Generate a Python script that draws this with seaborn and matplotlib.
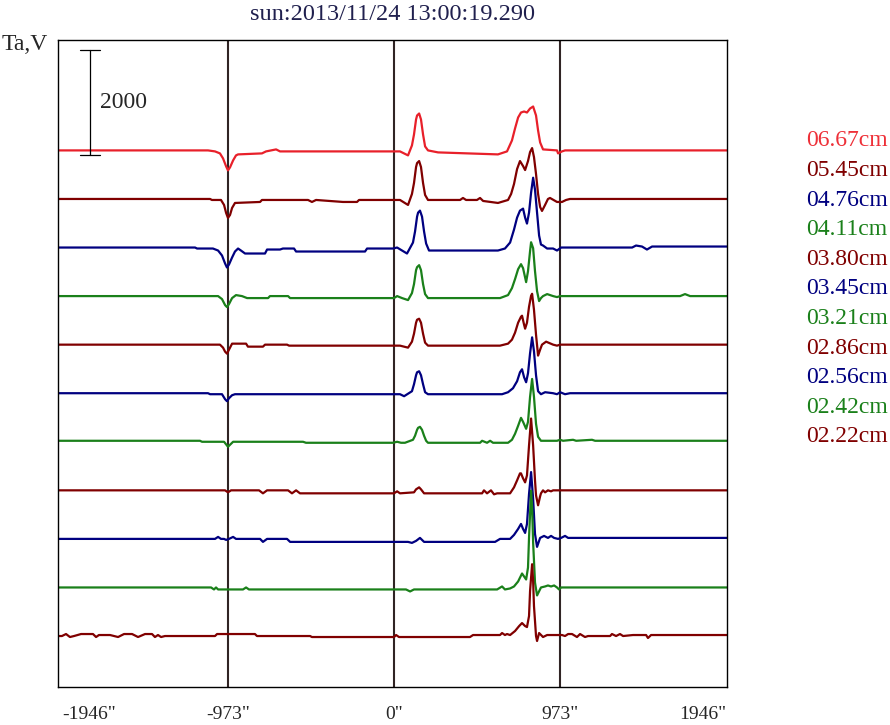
import numpy as np
import pandas as pd
import matplotlib.pyplot as plt
import seaborn as sns

title = "sun:2013/11/24 13:00:19.290"
bands = ["06.67cm", "05.45cm", "04.76cm", "04.11cm", "03.80cm", "03.45cm",
         "03.21cm", "02.86cm", "02.56cm", "02.42cm", "02.22cm"]
line_colors = ["#e8202a", "#800000", "#000080", "#1a801a", "#800000", "#000080",
               "#1a801a", "#800000", "#000080", "#1a801a", "#800000"]
label_colors = ["#ee3038", "#800000", "#000080", "#1a801a", "#800000", "#000080",
                "#1a801a", "#800000", "#000080", "#1a801a", "#800000"]
tick_pos = [-1946, -973, 0, 973, 1946]
tick_lab = ['-1946"', '-973"', '0"', '973"', '1946"']

# scan profiles: position (arcsec) and Ta above quiet level
x_0667 = [-1969, -1090, -1049, -1020, -1002, -984, -973, -961, -943, -926, -914, -774, -750, -691, -668,
          35, 82, 105, 117, 129, 135, 147, 158, 170, 182, 199, 258, 609,
          662, 691, 709, 727, 744, 762, 779, 797, 815, 832, 844, 856, 873,
          955, 961, 984, 1002, 1951]
ta_0667 = [0, 0, -19, -57, -152, -304, -380, -323, -190, -95, -76, -57, -19, 19, -19,
           -19, -95, 95, 304, 589, 665, 703, 589, 304, 76, 0, -38, -76,
           -19, 190, 418, 627, 722, 741, 722, 798, 836, 665, 380, 152, 19,
           0, -57, -19, 0, 0]

x_0545 = [-1969, -1078, -1067, -1014, -996, -984, -973, -961, -949, -932, -785, -774, -504, -481, -457,
          -299, -217, -205, 35, 82, 105, 117, 129, 135, 147, 158, 170, 182, 199,
          387, 404, 422, 486, 504, 522, 609,
          668, 686, 703, 721, 738, 756, 768, 785, 797, 809, 820, 832, 844, 856, 867, 885, 902, 914,
          955, 984, 1008, 1031, 1951]
ta_0545 = [0, 0, -19, -19, -114, -266, -361, -304, -171, -76, -57, -19, -19, -57, -19,
           -57, -57, -19, -19, -114, 95, 304, 608, 684, 722, 608, 304, 76, -19,
           -19, 19, -19, -19, 19, -38, -76,
           -19, 95, 285, 570, 722, 627, 551, 722, 893, 969, 798, 475, 95, -152, -228, -114, 0, 19,
           -57, -57, -19, 0, 0]

x_0476 = [-1969, -1166, -1154, -1061, -1031, -1008, -990, -979, -967, -949, -932, -914, -897, -873,
          -756, -744, -668, -651, -586, -574, -170, -158, -6, 18,
          76, 111, 123, 135, 141, 152, 164, 176, 188, 205, 223, 609,
          650, 680, 703, 721, 738, 756, 768, 779, 791, 803, 815, 826, 838, 850, 861, 873, 897,
          932, 955, 979, 1395, 1418, 1453, 1482, 1512, 1951]
ta_0476 = [0, 0, -19, -19, -57, -152, -304, -380, -323, -190, -76, -19, -57, -114,
           -114, -38, -38, -19, -19, -76, -76, -19, -19, 0,
           -114, 95, 304, 589, 665, 703, 589, 304, 76, -57, -57, -57,
           -19, 95, 342, 570, 703, 741, 570, 456, 665, 1045, 1330, 1102, 665, 228, 57, 38, -19,
           -19, -57, 0, 0, 38, 19, -38, 19, 19]

x_0411 = [-1969, -1031, -1008, -990, -979, -967, -949, -926, -891, -861, -738, -727, -621, -609,
          0, 18, 47, 82, 105, 117, 129, 135, 147, 158, 170, 182, 199,
          621, 668, 691, 709, 727, 744, 756, 774, 785, 797, 803, 815, 826, 838, 850, 861, 873, 897, 932,
          955, 973, 1676, 1705, 1735, 1951]
ta_0411 = [0, 0, -57, -171, -209, -152, -38, 19, 0, -38, -38, 0, 0, -38,
           -38, 0, -38, -76, 57, 228, 494, 551, 589, 494, 228, 38, -38,
           -38, 19, 152, 323, 513, 608, 532, 266, 475, 855, 1026, 912, 475, 95, -95, -38, 0, 38, 0,
           -19, 0, 0, 38, 0, 0]

x_0380 = [-1969, -1020, -1002, -990, -979, -967, -949, -867, -856, -768, -756, -627, -615,
          35, 82, 105, 117, 129, 135, 147, 158, 170, 182, 199,
          621, 668, 691, 709, 727, 744, 750, 762, 768, 779, 791, 803, 809, 820, 832, 844, 856, 867, 891, 932,
          955, 973, 1951]
ta_0380 = [0, 0, -57, -133, -171, -95, 19, 19, -38, -38, 0, 0, -19,
           -19, -57, 57, 209, 418, 475, 494, 418, 209, 38, -19,
           -19, 19, 95, 228, 418, 532, 551, 380, 304, 418, 722, 931, 969, 665, 190, -209, -95, 0, 57, 0,
           -19, 0, 0]

x_0345 = [-1969, -1090, -1078, -1008, -990, -979, -967, -949, -932,
          35, 59, 105, 117, 129, 135, 147, 158, 170, 182, 199,
          633, 668, 697, 721, 738, 750, 762, 774, 785, 797, 809, 820, 832, 844, 861, 885, 932,
          955, 973, 1002, 1031, 1951]
ta_0345 = [0, 0, -19, -19, -114, -152, -95, -38, -19,
           -19, -57, 38, 171, 342, 399, 418, 342, 171, 19, -19,
           -19, 19, 95, 228, 399, 456, 304, 209, 380, 760, 1064, 798, 342, 38, -19, 19, 0,
           -19, 19, -19, 0, 0]

x_0321 = [-1969, -1137, -1125, -996, -973, -943, -533, -516, -6, 18, 41,
          64, 111, 123, 135, 141, 152, 164, 176, 188, 199,
          504, 516, 545, 563, 580,
          668, 691, 709, 727, 744, 756, 774, 785, 797, 809, 820, 832, 844, 861,
          955, 973, 990, 1049, 1067, 1160, 1178, 1951]
ta_0321 = [19, 19, 0, 0, -95, 0, 0, -19, -19, 0, -19,
           -19, 38, 114, 228, 266, 285, 228, 114, 19, -19,
           -19, 19, -19, 19, -19,
           -19, 38, 152, 304, 456, 380, 247, 380, 855, 1197, 855, 342, 95, 19,
           19, 38, 19, 38, 19, 38, 19, 19]

x_0286 = [-1969, -990, -973, -955, -791, -768, -744, -621, -598, -574, -551, 0, 18, 35,
          117, 129, 147, 158, 176, 516, 527, 545, 568, 586, 604,
          680, 703, 721, 738, 744, 756, 768, 779, 791, 803, 815, 826, 832, 844, 856, 861, 873,
          885, 902, 920, 932, 1951]
ta_0286 = [0, 0, -38, 0, 0, -57, 0, 0, -57, 0, -57, -57, -19, -57,
           -38, 19, 57, 19, -57, -57, 0, -57, 0, -76, -57,
           -57, 57, 190, 323, 323, 228, 152, 285, 855, 1368, 855, 190, -95, -285, -114, -57, 0,
           -38, 0, -19, 0, 0]

x_0256 = [-1969, -1049, -1031, -1014, -996, -984, -967, -943, -926, -785, -768, -744, -627, -609, 82,
          105, 129, 152, 176, 592,
          621, 680, 703, 727, 744, 756, 768, 779, 791, 803, 815, 826, 838, 856,
          879, 902, 920, 938, 961, 979, 1002, 1020, 1951]
ta_0256 = [0, 0, 38, 0, 0, -19, 0, 38, 0, 0, -57, 0, 0, -57, -57,
           -76, -38, 19, -57, -57,
           0, 0, 76, 190, 285, 190, 114, 285, 855, 1273, 760, 95, -152, 19,
           57, 19, 57, 19, 0, 19, 57, 19, 19]

x_0242 = [-1969, -1072, -1055, -1043, -1031, -885, -867, -850, 70, 94, 117, 604, 633, 650,
          680, 703, 727, 750, 762, 774, 785, 791, 803, 809, 815, 826, 838, 861,
          885, 902, 920, 938, 955, 967, 979, 1951]
ta_0242 = [0, 0, -38, 0, -38, -38, 0, -38, -38, -76, -38, -38, 19, -38,
           -19, 19, 114, 266, 209, 152, 380, 950, 1843, 1520, 855, 95, -152, 0,
           19, 38, 19, 38, 0, -38, 0, 0]

x_0222 = [-1969, -1946, -1922, -1899, -1875, -1834, -1764, -1746, -1729, -1664, -1617, -1582, -1535,
          -1500, -1459, -1418, -1401, -1383, -1365, -1342, -1049, -1037, -815, -803, -492, -481, 0, 12,
          29, 445, 463, 621, 633, 650, 662,
          680, 709, 733, 750, 768, 779, 791, 797, 809, 815, 820, 832, 838, 850, 873,
          897, 984, 1002, 1020, 1043, 1072, 1090, 1119, 1137, 1266, 1277, 1301, 1324, 1342, 1400, 1477,
          1488, 1506, 1951]
ta_0222 = [0, 0, 38, -19, 0, 38, 38, -19, 19, 19, -19, 38, 38,
           -19, 38, 38, -19, 19, -19, 0, 0, 38, 38, 0, 0, -19, -19, 19,
           -19, -19, 19, 19, 57, 19, 38,
           19, 95, 190, 247, 190, 171, 380, 855, 1368, 1045, 570, 0, -95, 57, -19,
           19, 19, 0, 38, 38, -19, 38, -19, 0, 0, 38, 0, 38, 0, 19, 19,
           -38, 19, 19]

xs = [x_0667, x_0545, x_0476, x_0411, x_0380, x_0345, x_0321, x_0286, x_0256, x_0242, x_0222]
tas = [ta_0667, ta_0545, ta_0476, ta_0411, ta_0380, ta_0345, ta_0321, ta_0286, ta_0256, ta_0242, ta_0222]

base0 = 971     # level of the lowest trace
step = 925      # spacing between traces

rows = []
for i, (b, x, t) in enumerate(zip(bands, xs, tas)):
    off = base0 + (len(bands) - 1 - i) * step
    for xx, tt in zip(x, t):
        rows.append((b, xx, tt + off))
df = pd.DataFrame(rows, columns=["band", "pos", "ta"])

sns.set_style("white")
plt.rcParams['font.family'] = ['Liberation Serif', 'DejaVu Serif']

fig = plt.figure(figsize=(8.9, 7.25), dpi=100)
ax = fig.add_axes([58 / 890, 38 / 725, 669 / 890, 647 / 725])

for i, b in enumerate(bands):
    sns.lineplot(data=df[df["band"] == b], x="pos", y="ta", color=line_colors[i],
                 linewidth=1.6, estimator=None, sort=False, ax=ax)

for xv in [-973, 0, 973]:
    ax.axvline(xv, color="#302424", linewidth=1.5, zorder=0)

# 2000 scale bar
ax.plot([-1781, -1781], [10135, 12135], color="black", linewidth=0.9)
ax.plot([-1840, -1723], [10135, 10135], color="black", linewidth=0.9)
ax.plot([-1840, -1723], [12135, 12135], color="black", linewidth=0.9)
ax.text(-1723, 11125, "2000", fontsize=17, va="center", ha="left")

ax.set_xlim(-1969, 1951)
ax.set_ylim(0, 12324)
ax.set_xlabel("")
ax.set_ylabel("")
ax.set_yticks([])
ax.set_xticks(tick_pos)
ax.set_xticklabels(tick_lab, fontsize=14)
ax.tick_params(axis="x", length=0, pad=14)
labs = ax.get_xticklabels()
labs[0].set_ha("left")
labs[-1].set_ha("right")
for s in ax.spines.values():
    s.set_visible(True)
    s.set_color("black")
    s.set_linewidth(1.0)

fig.text(393 / 890, 1 - 15 / 725, title, fontsize=17.5, color="#20204e", ha="center", va="center")
fig.text(2 / 890, 1 - 45 / 725, "Ta,V", fontsize=17, ha="left", va="center")
for i, b in enumerate(bands):
    fig.text(806 / 890, 1 - (141 + i * 29.6) / 725, b, fontsize=17,
             color=label_colors[i], ha="left", va="center")

fig.savefig("out.png", dpi=100)
